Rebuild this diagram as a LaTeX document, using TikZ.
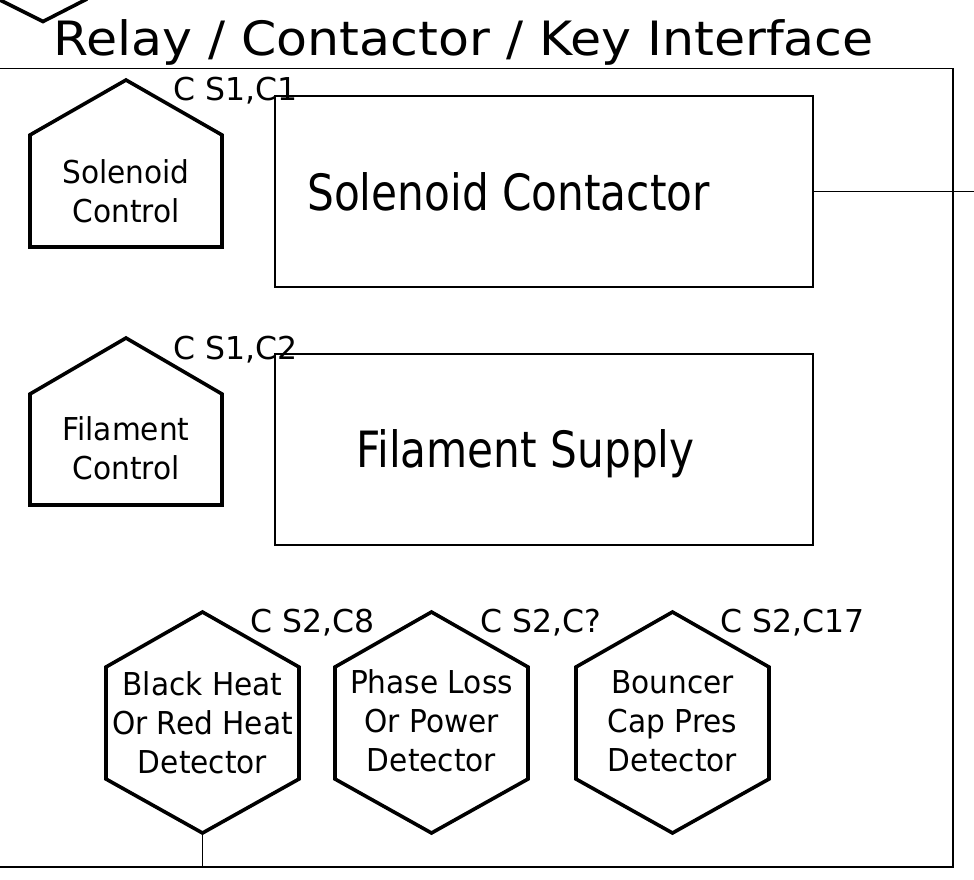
\documentclass[tikz,border=0pt]{standalone}
\usepackage{fontspec}
\setmainfont{DejaVu Sans}
\newfontfamily\titlefont{DejaVu Sans}[FakeStretch=1.07]
\newfontfamily\bigfont{DejaVu Sans}[FakeStretch=0.845]
\newfontfamily\smallfont{DejaVu Sans}[FakeStretch=0.94]
\begin{document}
\begin{tikzpicture}[x=1pt,y=-1pt,
  thinline/.style={line width=1.9pt},
  shapeline/.style={line width=3.6pt, line join=miter},
  box/.style={draw, line width=1.9pt, inner sep=0pt},
  bigtxt/.style={font=\bigfont\fontsize{50}{60}\selectfont, inner sep=0pt, anchor=base west},
  smalltxt/.style={font=\smallfont\fontsize{31.5}{39}\selectfont, inner sep=0pt, anchor=base},
  lbl/.style={font=\fontsize{31.5}{38}\selectfont, inner sep=0pt, anchor=base west},
]
\useasboundingbox (0,0) rectangle (974,879);

% fragment of a shape cut off at the top-left
\draw[shapeline] (-4,-2) -- (43,21.5) -- (87,-1);

% title
\node[font=\titlefont\fontsize{47.3}{56}\selectfont, inner sep=0pt, anchor=base west] (title) at (53,55) {Relay / Contactor / Key Interface};

% frame
\coordinate (ftl) at (-3,68.5);
\coordinate (ftr) at (953,68.5);
\coordinate (fbr) at (953,867);
\coordinate (fbl) at (-3,867);
\draw[thinline] (ftl) -- (ftr) -- (fbr) -- (fbl);

% Solenoid Control
\draw[shapeline] (30,247) -- (30,135) -- (126,80) -- (222,135) -- (222,247) -- cycle;
\node[smalltxt] (sctrl) at (126,183) {\begin{tabular}[t]{@{}c@{}}Solenoid\\Control\end{tabular}};
\node[lbl] (l1) at (173,100) {C S1,C1};

% Solenoid Contactor
\node[box, minimum width=538pt, minimum height=191pt] (sc) at (544,191.5) {};
\node[bigtxt] (sctxt) at (307,210) {Solenoid Contactor};
\coordinate (scout) at (980,191.5);
\draw[thinline] (sc.east) -- (scout);

% Filament Control
\draw[shapeline] (30,505) -- (30,394) -- (126,338) -- (222,394) -- (222,505) -- cycle;
\node[smalltxt] (fctrl) at (126,440) {\begin{tabular}[t]{@{}c@{}}Filament\\Control\end{tabular}};
\node[lbl] (l2) at (173,359) {C S1,C2};

% Filament Supply
\node[box, minimum width=538pt, minimum height=191pt] (fs) at (544,449.5) {};
\node[bigtxt] (fstxt) at (356,467) {Filament Supply};

% Detectors
\draw[shapeline] (202.5,612) -- (299,667) -- (299,779) -- (202.5,833) -- (106,779) -- (106,667) -- cycle;
\node[smalltxt] (bh) at (202.5,695) {\begin{tabular}[t]{@{}c@{}}Black Heat\\Or Red Heat\\Detector\end{tabular}};
\node[lbl] (l3) at (250,632) {C S2,C8};
\coordinate (bhbot) at (202.5,833);
\coordinate (bhend) at (202.5,867);
\draw[thinline] (bhbot) -- (bhend);

\draw[shapeline] (431.5,612) -- (528,667) -- (528,779) -- (431.5,833) -- (335,779) -- (335,667) -- cycle;
\node[smalltxt] (pl) at (431.5,693) {\begin{tabular}[t]{@{}c@{}}Phase Loss\\Or Power\\Detector\end{tabular}};
\node[lbl] (l4) at (480,632) {C S2,C?};

\draw[shapeline] (672.5,612) -- (769,667) -- (769,779) -- (672.5,833) -- (576,779) -- (576,667) -- cycle;
\node[smalltxt] (bc) at (672.5,693) {\begin{tabular}[t]{@{}c@{}}Bouncer\\Cap Pres\\Detector\end{tabular}};
\node[lbl] (l5) at (720,632) {C S2,C17};
\end{tikzpicture}
\end{document}
